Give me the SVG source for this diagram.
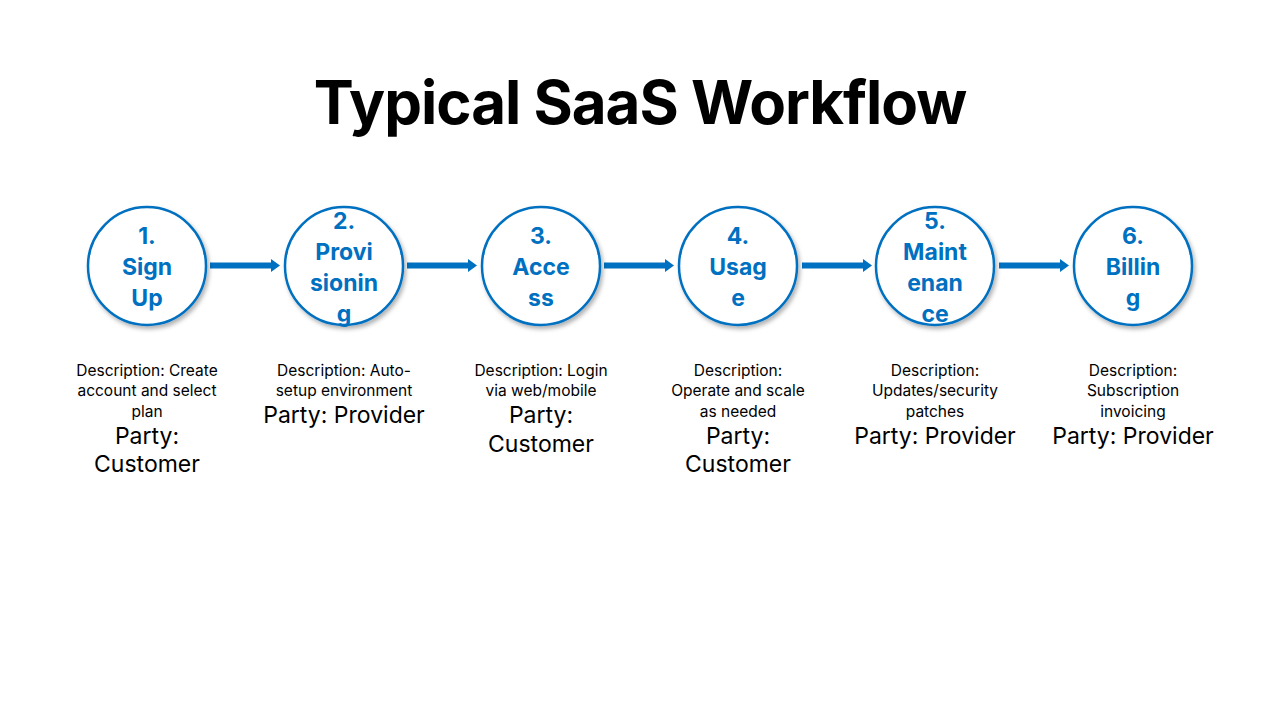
<svg xmlns="http://www.w3.org/2000/svg" width="1280" height="720" viewBox="0 0 1280 720">
<style>
.t{font-family:Inter,"Noto Sans",sans-serif;text-anchor:middle}
.title{font-size:60px;font-weight:700;fill:#000;letter-spacing:-1px}
.c{fill:#fff;stroke:#0070C0;stroke-width:2.5;filter:url(#sh)}
.n{font-size:23px;font-weight:700;fill:#0070C0}
.d{font-size:15.5px;fill:#000}
.p{font-size:23px;fill:#000}
.a{fill:#0070C0}
</style>
<defs><filter id="sh" x="-20%" y="-20%" width="140%" height="140%"><feDropShadow dx="2" dy="3" stdDeviation="2" flood-color="#000" flood-opacity="0.3"/></filter></defs>
<rect width="1280" height="720" fill="#fff"/>
<text class="t title" x="640" y="124">Typical SaaS Workflow</text>
<g id="connectors">
<polygon class="a" points="210,262.5 271,262.5 271,259 280,265.5 271,272 271,268.5 210,268.5"/>
<polygon class="a" points="407,262.5 468,262.5 468,259 477,265.5 468,272 468,268.5 407,268.5"/>
<polygon class="a" points="604,262.5 665,262.5 665,259 674,265.5 665,272 665,268.5 604,268.5"/>
<polygon class="a" points="802,262.5 863,262.5 863,259 872,265.5 863,272 863,268.5 802,268.5"/>
<polygon class="a" points="999,262.5 1060,262.5 1060,259 1069,265.5 1060,272 1060,268.5 999,268.5"/>
</g>
<g id="n1"><circle class="c" cx="147" cy="266" r="59"/>
<text class="t n"><tspan x="147" y="244">1.</tspan><tspan x="147" y="275">Sign</tspan><tspan x="147" y="306">Up</tspan></text>
<text class="t d"><tspan x="147" y="376">Description: Create</tspan><tspan x="147" y="396">account and select</tspan><tspan x="147" y="417">plan</tspan></text>
<text class="t p"><tspan x="147" y="444">Party:</tspan><tspan x="147" y="472">Customer</tspan></text></g>
<g id="n2"><circle class="c" cx="344" cy="266" r="59"/>
<text class="t n"><tspan x="344" y="229">2.</tspan><tspan x="344" y="260">Provi</tspan><tspan x="344" y="291">sionin</tspan><tspan x="344" y="322">g</tspan></text>
<text class="t d"><tspan x="344" y="376">Description: Auto-</tspan><tspan x="344" y="396">setup environment</tspan></text>
<text class="t p"><tspan x="344" y="423">Party: Provider</tspan></text></g>
<g id="n3"><circle class="c" cx="541" cy="266" r="59"/>
<text class="t n"><tspan x="541" y="244">3.</tspan><tspan x="541" y="275">Acce</tspan><tspan x="541" y="306">ss</tspan></text>
<text class="t d"><tspan x="541" y="376">Description: Login</tspan><tspan x="541" y="396">via web/mobile</tspan></text>
<text class="t p"><tspan x="541" y="423">Party:</tspan><tspan x="541" y="452">Customer</tspan></text></g>
<g id="n4"><circle class="c" cx="738" cy="266" r="59"/>
<text class="t n"><tspan x="738" y="244">4.</tspan><tspan x="738" y="275">Usag</tspan><tspan x="738" y="306">e</tspan></text>
<text class="t d"><tspan x="738" y="376">Description:</tspan><tspan x="738" y="396">Operate and scale</tspan><tspan x="738" y="417">as needed</tspan></text>
<text class="t p"><tspan x="738" y="444">Party:</tspan><tspan x="738" y="472">Customer</tspan></text></g>
<g id="n5"><circle class="c" cx="935" cy="266" r="59"/>
<text class="t n"><tspan x="935" y="229">5.</tspan><tspan x="935" y="260">Maint</tspan><tspan x="935" y="291">enan</tspan><tspan x="935" y="322">ce</tspan></text>
<text class="t d"><tspan x="935" y="376">Description:</tspan><tspan x="935" y="396">Updates/security</tspan><tspan x="935" y="417">patches</tspan></text>
<text class="t p"><tspan x="935" y="444">Party: Provider</tspan></text></g>
<g id="n6"><circle class="c" cx="1133" cy="266" r="59"/>
<text class="t n"><tspan x="1133" y="244">6.</tspan><tspan x="1133" y="275">Billin</tspan><tspan x="1133" y="306">g</tspan></text>
<text class="t d"><tspan x="1133" y="376">Description:</tspan><tspan x="1133" y="396">Subscription</tspan><tspan x="1133" y="417">invoicing</tspan></text>
<text class="t p"><tspan x="1133" y="444">Party: Provider</tspan></text></g>
</svg>
